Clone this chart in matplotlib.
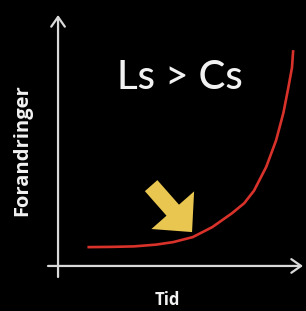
import matplotlib.pyplot as plt

# curve: time vs. changes
tid = [1.2, 2.2, 3.1, 4.0, 4.7, 5.5, 6.3, 7.1, 7.6, 8.0, 8.5, 8.9, 9.2, 9.4, 9.55, 9.6]
forandringer = [0.75, 0.76, 0.78, 0.85, 0.95, 1.15, 1.55, 2.1, 2.5, 3.0, 3.95, 5.0, 6.1, 7.1, 7.9, 8.6]

# yellow arrow: from tail to tip
pil_fra = (3.8, 3.2)
pil_til = (5.47, 1.35)

titel = "Ls > Cs"
xlabel = "Tid"
ylabel = "Forandringer"

plt.rcParams['font.family'] = ['Lato', 'DejaVu Sans']

fig = plt.figure(figsize=(3.06, 3.11), dpi=100, facecolor='black')
ax = fig.add_axes([48 / 306, 34 / 311, 255 / 306, 262 / 311])
ax.set_facecolor('black')
ax.set_xlim(-0.41, 10)
ax.set_ylim(-0.44, 10)
ax.axis('off')

# axes with arrows
axcol = '#d9d9d9'
ax.annotate('', xy=(10, 0), xytext=(-0.41, 0),
            arrowprops=dict(arrowstyle='->,head_length=0.5,head_width=0.35', color=axcol,
                            lw=1.6, mutation_scale=14, shrinkA=0, shrinkB=0))
ax.annotate('', xy=(0, 10), xytext=(0, -0.44),
            arrowprops=dict(arrowstyle='->,head_length=0.5,head_width=0.35', color=axcol,
                            lw=1.6, mutation_scale=14, shrinkA=0, shrinkB=0))

ax.plot(tid, forandringer, color='#d8322a', lw=1.9, solid_capstyle='butt')

ax.annotate('', xy=pil_til, xytext=pil_fra,
            arrowprops=dict(arrowstyle='simple,head_length=21,head_width=41,tail_width=12',
                            mutation_scale=1, fc='#e9c650', ec='none',
                            shrinkA=0, shrinkB=0))

ax.text(4.98, 7.5, titel, color='#f2f2f2', fontsize=29, fontweight='medium',
        ha='center', va='center')
fig.text(167 / 306, 1 - 300 / 311, xlabel, color='#f2f2f2', fontsize=12,
         fontweight='bold', family=['Open Sans', 'DejaVu Sans'], ha='center', va='center')
fig.text(22 / 306, 1 - 150 / 311, ylabel, color='#f2f2f2', fontsize=14.5,
         fontweight='bold', family=['Open Sans', 'DejaVu Sans'], ha='center', va='center',
         rotation=90)

fig.savefig('out.png', dpi=100, facecolor='black')
